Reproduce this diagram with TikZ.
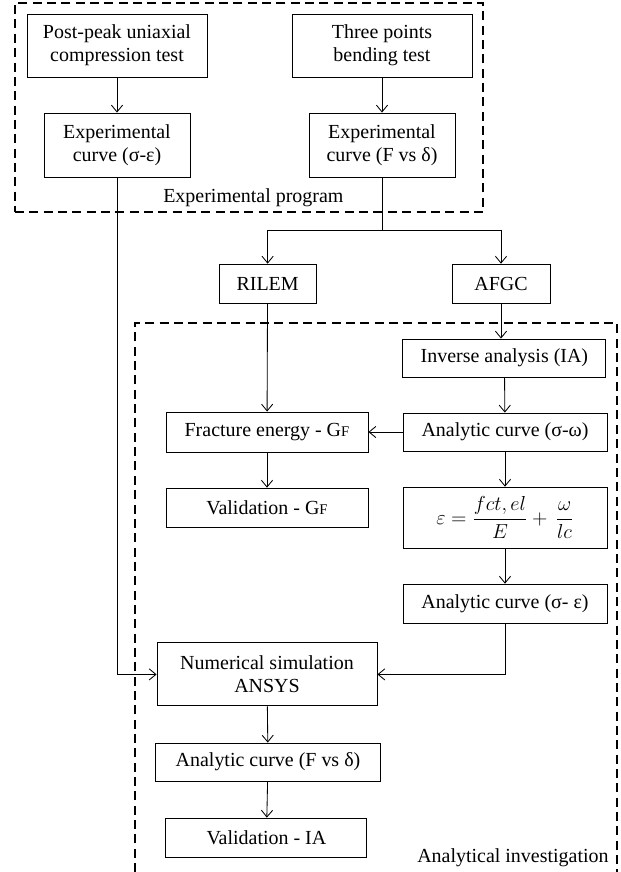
\documentclass[tikz,border=0pt]{standalone}
\usepackage{amsmath}
\usepackage{fontspec}
\setmainfont{Liberation Serif}
\usepackage{tikz}
\usetikzlibrary{calc}
\usetikzlibrary{arrows.meta}
\usetikzlibrary{positioning}
\tikzset{>={Straight Barb[length=1.7mm,width=2.8mm]}}
\tikzstyle{blk} = [rectangle, draw=black, line width=0.6pt, inner sep=0, align=center, font=\fontsize{14.2}{16.4}\selectfont]
\tikzstyle{grp} = [draw=black, line width=1.7pt, dash pattern=on 6.4pt off 3.8pt]
\tikzstyle{lnk} = [->, line width=0.6pt]
\newcommand{\gf}{G{\fontsize{10.5}{12}\selectfont F}}

\begin{document}
\begin{tikzpicture}
\useasboundingbox (0,0) rectangle (15.5,-21.8);
%\draw [grp] (0.375,-0.075) rectangle (12.075,-5.3);
\node [grp, rectangle, minimum width=11.7cm, minimum height=5.225cm, inner sep=0] (prog) at (6.225,-2.6875) {};
\node [draw = none, inner sep = 0, anchor=base west, font=\fontsize{14.2}{16.4}\selectfont] (progl) at (4.075,-5.075) {Experimental program};
\draw [grp] (3.375,-21.8) -- (3.375,-8.075) -- (15.425,-8.075) -- (15.425,-21.8);
\node [draw = none, inner sep = 0, anchor=base east, font=\fontsize{14.2}{16.4}\selectfont] (anal) at (15.22,-21.55) {Analytical investigation};

% experimental part
\node [blk, minimum width=4.5cm, minimum height=1.575cm] (post) at (2.925,-1.1375) {Post-peak uniaxial\\compression test};
\node [blk, minimum width=4.5cm, minimum height=1.575cm] (three) at (9.55,-1.1375) {Three points\\bending test};
\node [blk, minimum width=3.65cm, minimum height=1.6cm] (expse) at (2.925,-3.625) {Experimental\\curve (σ-ε)};
\node [blk, minimum width=3.65cm, minimum height=1.6cm] (expfd) at (9.55,-3.625) {Experimental\\curve (F vs δ)};
\coordinate (split) at (9.55,-5.75);
\node [blk, minimum width=2.425cm, minimum height=0.975cm] (rilem) at (6.69,-7.09) {RILEM};
\node [blk, minimum width=2.45cm, minimum height=0.975cm] (afgc) at (12.525,-7.09) {AFGC};

% analytical part
\node [blk, minimum width=5.075cm, minimum height=0.95cm] (inv) at (12.61,-8.95) {Inverse analysis (IA)};
\node [blk, minimum width=5.1cm, minimum height=0.95cm] (acsw) at (12.625,-10.8) {Analytic curve (σ-ω)};
\node [blk, minimum width=5.05cm, minimum height=1.0cm] (frac) at (6.675,-10.8) {Fracture energy - \gf};
\node [blk, minimum width=5.05cm, minimum height=0.975cm] (valgf) at (6.675,-12.69) {Validation - \gf};
\node [blk, minimum width=5.1cm, minimum height=1.525cm] (law) at (12.625,-12.94) {$\varepsilon = \dfrac{fct,el}{E} + \,\dfrac{\omega}{lc}$};
\node [blk, minimum width=5.1cm, minimum height=0.975cm] (acse) at (12.625,-15.09) {Analytic curve (σ- ε)};
\node [blk, minimum width=5.5cm, minimum height=1.575cm] (num) at (6.675,-16.86) {Numerical simulation\\ANSYS};
\node [blk, minimum width=5.625cm, minimum height=0.95cm] (acfd) at (6.7,-19.05) {Analytic curve (F vs δ)};
\node [blk, minimum width=5.025cm, minimum height=0.975cm] (valia) at (6.66,-20.94) {Validation - IA};

\draw [lnk] (post) -- (expse);
\draw [lnk] (three) -- (expfd);
\draw [line width=0.6pt] (expfd) -- (split);
\draw [lnk] (split) -| (rilem);
\draw [lnk] (split) -| (afgc);
\draw [lnk] (afgc.south) -- (afgc.south |- inv.north);
\draw [lnk] (inv) -- (acsw);
\draw [lnk] (acsw) -- (frac);
\draw [lnk] (rilem) -- (frac);
\draw [lnk] (frac) -- (valgf);
\draw [lnk] (acsw) -- (law);
\draw [lnk] (law) -- (acse);
\draw [lnk] (acse.south) |- (num.east);
\draw [lnk] (expse.south) |- (num.west);
\draw [lnk] (num) -- (acfd);
\draw [lnk] (acfd) -- (valia);
\end{tikzpicture}
\end{document}
